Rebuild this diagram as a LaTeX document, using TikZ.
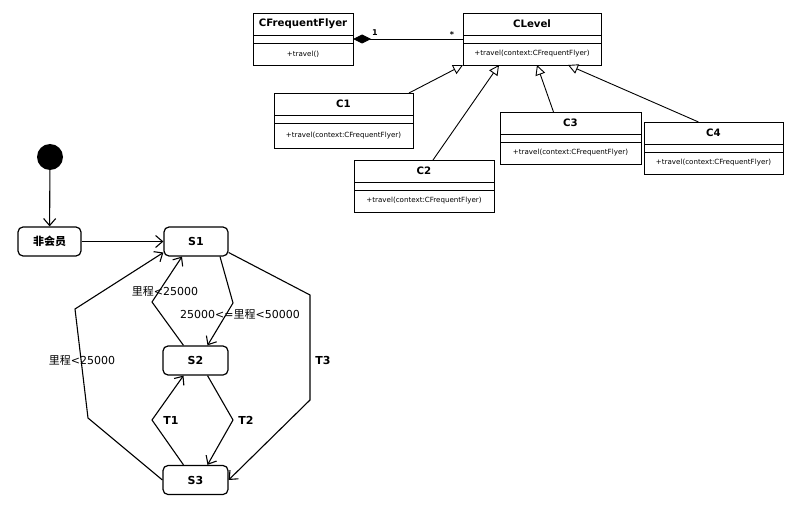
\documentclass[tikz,border=0pt]{standalone}
\usepackage{fontspec}
\setmainfont{DejaVu Sans}
\newfontfamily\cjk{Noto Sans CJK SC}
\usetikzlibrary{arrows.meta,positioning,calc}

\tikzset{
	ctitle/.style={draw, line width=0.9pt, inner sep=0pt, outer sep=0pt, minimum height=22pt, font=\bfseries\fontsize{10.2}{12}\selectfont},
	cattr/.style={draw, line width=0.9pt, inner sep=0pt, outer sep=0pt, minimum height=8pt},
	cop/.style={draw, line width=0.9pt, inner sep=0pt, outer sep=0pt, minimum height=22pt, font=\fontsize{7.1}{9}\selectfont},
	state/.style={draw, rounded corners=5pt, line width=1.2pt, minimum width=64pt, minimum height=29pt, inner sep=0pt, font=\bfseries\fontsize{11}{13}\selectfont},
	trans/.style={line width=1.1pt, -{Straight Barb[length=7pt,width=12pt]}},
	inherit/.style={line width=0.9pt, -{Triangle[open,length=10pt,width=10pt,fill=white]}},
	tlabel/.style={font=\fontsize{11}{13}\selectfont, inner sep=1pt},
}

\begin{document}
\begin{tikzpicture}[x=1pt, y=-1pt]
			\useasboundingbox [fill=white] (0,0) rectangle (799,505);
			% class diagram
			\node [ctitle, minimum width=100pt, anchor=north west] (cff) at (253,13) {CFrequentFlyer};
			\node [cattr, minimum width=100pt, below=0pt of cff] (cffa) {};
			\node [cop, minimum width=100pt, below=0pt of cffa] (cffm) {+travel()};
			\node [ctitle, minimum width=138pt, anchor=north west] (clv) at (463,13) {CLevel};
			\node [cattr, minimum width=138pt, below=0pt of clv] (clva) {};
			\node [cop, minimum width=138pt, below=0pt of clva] (clvm) {+travel(context:CFrequentFlyer)};
			\node [ctitle, minimum width=139pt, anchor=north west] (c1) at (274,93) {C1};
			\node [cattr, minimum width=139pt, below=0pt of c1] (c1a) {};
			\node [cop, minimum width=139pt, minimum height=25pt, below=0pt of c1a] (c1m) {+travel(context:CFrequentFlyer)};
			\node [ctitle, minimum width=140pt, anchor=north west] (c2) at (354,160) {C2};
			\node [cattr, minimum width=140pt, below=0pt of c2] (c2a) {};
			\node [cop, minimum width=140pt, below=0pt of c2a] (c2m) {+travel(context:CFrequentFlyer)};
			\node [ctitle, minimum width=141pt, anchor=north west] (c3) at (500,112) {C3};
			\node [cattr, minimum width=141pt, below=0pt of c3] (c3a) {};
			\node [cop, minimum width=141pt, below=0pt of c3a] (c3m) {+travel(context:CFrequentFlyer)};
			\node [ctitle, minimum width=139pt, anchor=north west] (c4) at (644,122) {C4};
			\node [cattr, minimum width=139pt, below=0pt of c4] (c4a) {};
			\node [cop, minimum width=139pt, below=0pt of c4a] (c4m) {+travel(context:CFrequentFlyer)};
			\draw [line width=0.9pt, {Diamond[length=18pt,width=9pt]}-] (cffa.east) -- (clva.west);
			\node [font=\bfseries\fontsize{8}{9}\selectfont] (one) at (375,33) {1};
			\node [font=\bfseries\fontsize{8}{9}\selectfont] (many) at (452,35) {*};
			\draw [inherit] ([xshift=-4pt]c1.north east) -- (clvm.south west);
			\draw [inherit] ([xshift=9pt]c2.north) -- ([xshift=-33pt]clvm.south);
			\draw [inherit] ([xshift=-17pt]c3.north) -- ([xshift=5pt]clvm.south);
			\draw [inherit] ([xshift=-15pt]c4.north) -- ([xshift=36pt]clvm.south);
			% state diagram
			\node [circle, fill=black, minimum size=26pt, inner sep=0pt] (init) at (50,157) {};
			\node [state, minimum width=63pt] (fhy) at (49.5,241.5) {\cjk 非会员};
			\node [state] (s1) at (196,241.5) {S1};
			\node [state, minimum width=65pt] (s2) at (195.5,360.5) {S2};
			\node [state, minimum width=65pt] (s3) at (195.5,480) {S3};
			\coordinate (k12) at (233,303);
			\coordinate (k21) at (152,302);
			\coordinate (k23) at (233,420);
			\coordinate (k32) at (152,420);
			\coordinate (k31a) at (88,418);
			\coordinate (k31b) at (75,309);
			\coordinate (k13a) at (310,295);
			\coordinate (k13b) at (310,400);
			\draw [trans] (init) -- (fhy);
			\draw [trans] (fhy) -- (s1);
			\draw [trans] ([xshift=24pt]s1.south) -- (k12) -- ([xshift=12pt]s2.north);
			\draw [trans] ([xshift=-12pt]s2.north) -- (k21) -- ([xshift=-14pt]s1.south);
			\draw [trans] ([xshift=12pt]s2.south) -- (k23) -- ([xshift=12pt]s3.north);
			\draw [trans] ([xshift=-12pt]s3.north) -- (k32) -- ([xshift=-12pt]s2.south);
			\draw [trans] (s3.west) -- (k31a) -- (k31b) -- ([yshift=-11pt]s1.west);
			\draw [trans] ([yshift=-11pt]s1.east) -- (k13a) -- (k13b) -- (s3.east);
			\node [tlabel] (l21) at (165,291) {{\cjk 里程}<25000};
			\node [tlabel] (l12) at (240,314) {25000<={\cjk 里程}<50000};
			\node [tlabel] (l31) at (82,360) {{\cjk 里程}<25000};
			\node [tlabel, font=\bfseries\fontsize{11}{13}\selectfont] (t3) at (323,360) {T3};
			\node [tlabel, font=\bfseries\fontsize{11}{13}\selectfont] (t2) at (246,420) {T2};
			\node [tlabel, font=\bfseries\fontsize{11}{13}\selectfont] (t1) at (171,420) {T1};
\end{tikzpicture}
\end{document}
